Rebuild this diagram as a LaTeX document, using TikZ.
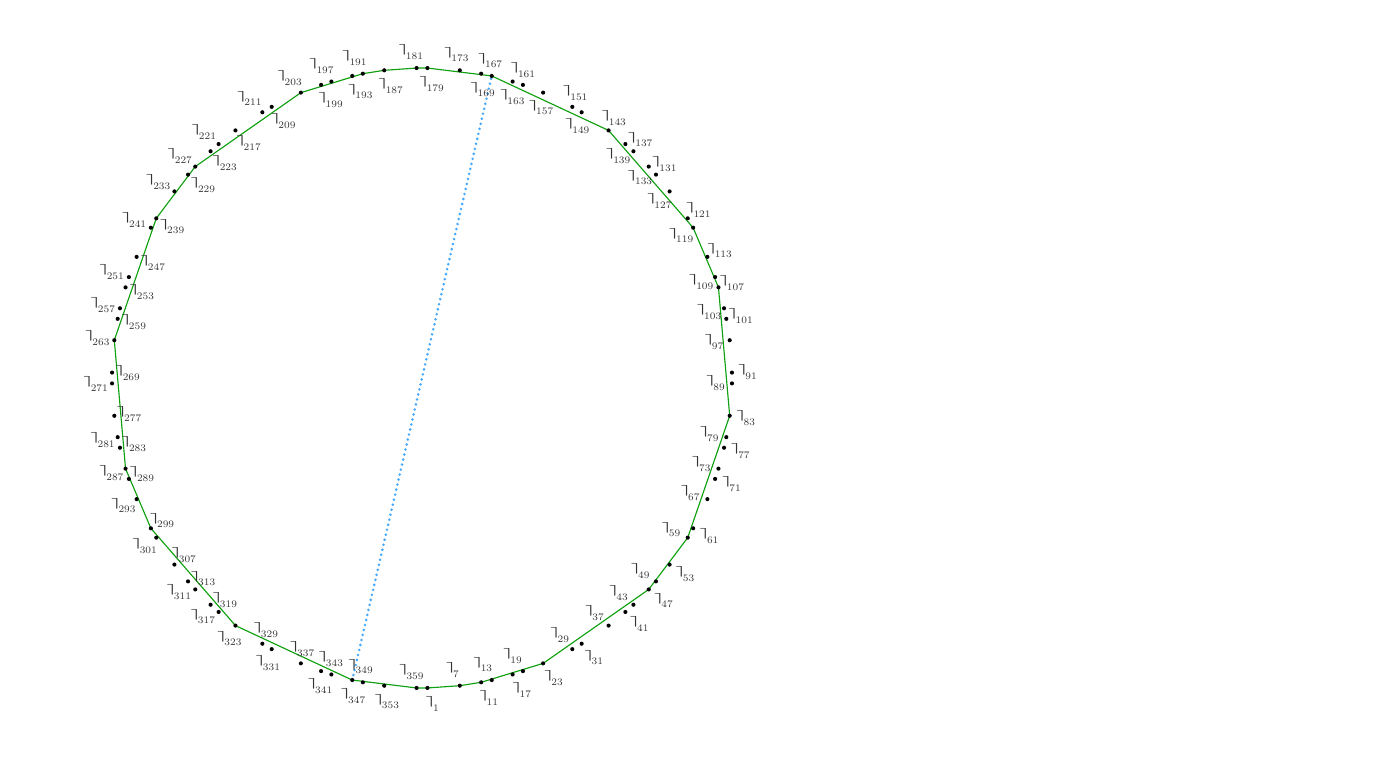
\documentclass[tikz,border=0pt]{standalone}
\usepackage{bm}
\definecolor{tourgreen}{RGB}{15,160,15}
\definecolor{chordblue}{RGB}{70,168,250}
\newcommand{\cornmark}{\raisebox{3.2pt}{\scalebox{1.35}[0.75]{$\bm{\rceil}$}}\mkern-3.5mu}
\begin{document}
\begin{tikzpicture}[x=0.7pt,y=-0.7pt,
  dotnode/.style={circle,fill=black,inner sep=0pt,minimum size=2.9pt},
  lbl/.style={inner sep=0pt,text=black!80},
  tour/.style={draw=tourgreen,line width=0.8pt,line join=round},
  chord/.style={draw=chordblue,line width=2pt,line cap=round,dash pattern=on 0pt off 3.6pt}]
\path[use as bounding box] (0,0) rectangle (1393,763);
\def\nums{1,7,11,13,17,19,23,29,31,37,41,43,47,49,53,59,61,67,71,73,77,79,83,89,91,97,101,103,107,109,113,119,121,127,131,133,137,139,143,149,151,157,161,163,167,169,173,179,181,187,191,193,197,199,203,209,211,217,221,223,227,229,233,239,241,247,251,253,257,259,263,269,271,277,281,283,287,289,293,299,301,307,311,313,317,319,323,329,331,337,341,343,347,349,353,359}
\foreach \n in \nums {
  \coordinate (c\n) at ({422+310*sin(\n)},{378+310*cos(\n)});
}
\draw[tour] (c359) -- (c1) -- (c7) -- (c11) -- (c23) -- (c47) -- (c59) -- (c83) -- (c107) -- (c119) -- (c143) -- (c167) -- (c179) -- (c181) -- (c187) -- (c191) -- (c203) -- (c227) -- (c239) -- (c263) -- (c287) -- (c299) -- (c323) -- (c347) -- cycle;
\draw[chord] (c347) -- (c167);
\foreach \n [count=\i] in \nums {
  \node[dotnode] (p\n) at (c\n) {};
  \pgfmathsetmacro\rr{isodd(\i) ? 326 : 294}
  \pgfmathsetmacro\sh{isodd(\i) ? 5 : -5}
  \node[lbl] (l\n) at ({422+\rr*sin(\n)+\sh*cos(\n)},{378+\rr*cos(\n)}) {$\cornmark_{\n}$};
}
\end{tikzpicture}
\end{document}
